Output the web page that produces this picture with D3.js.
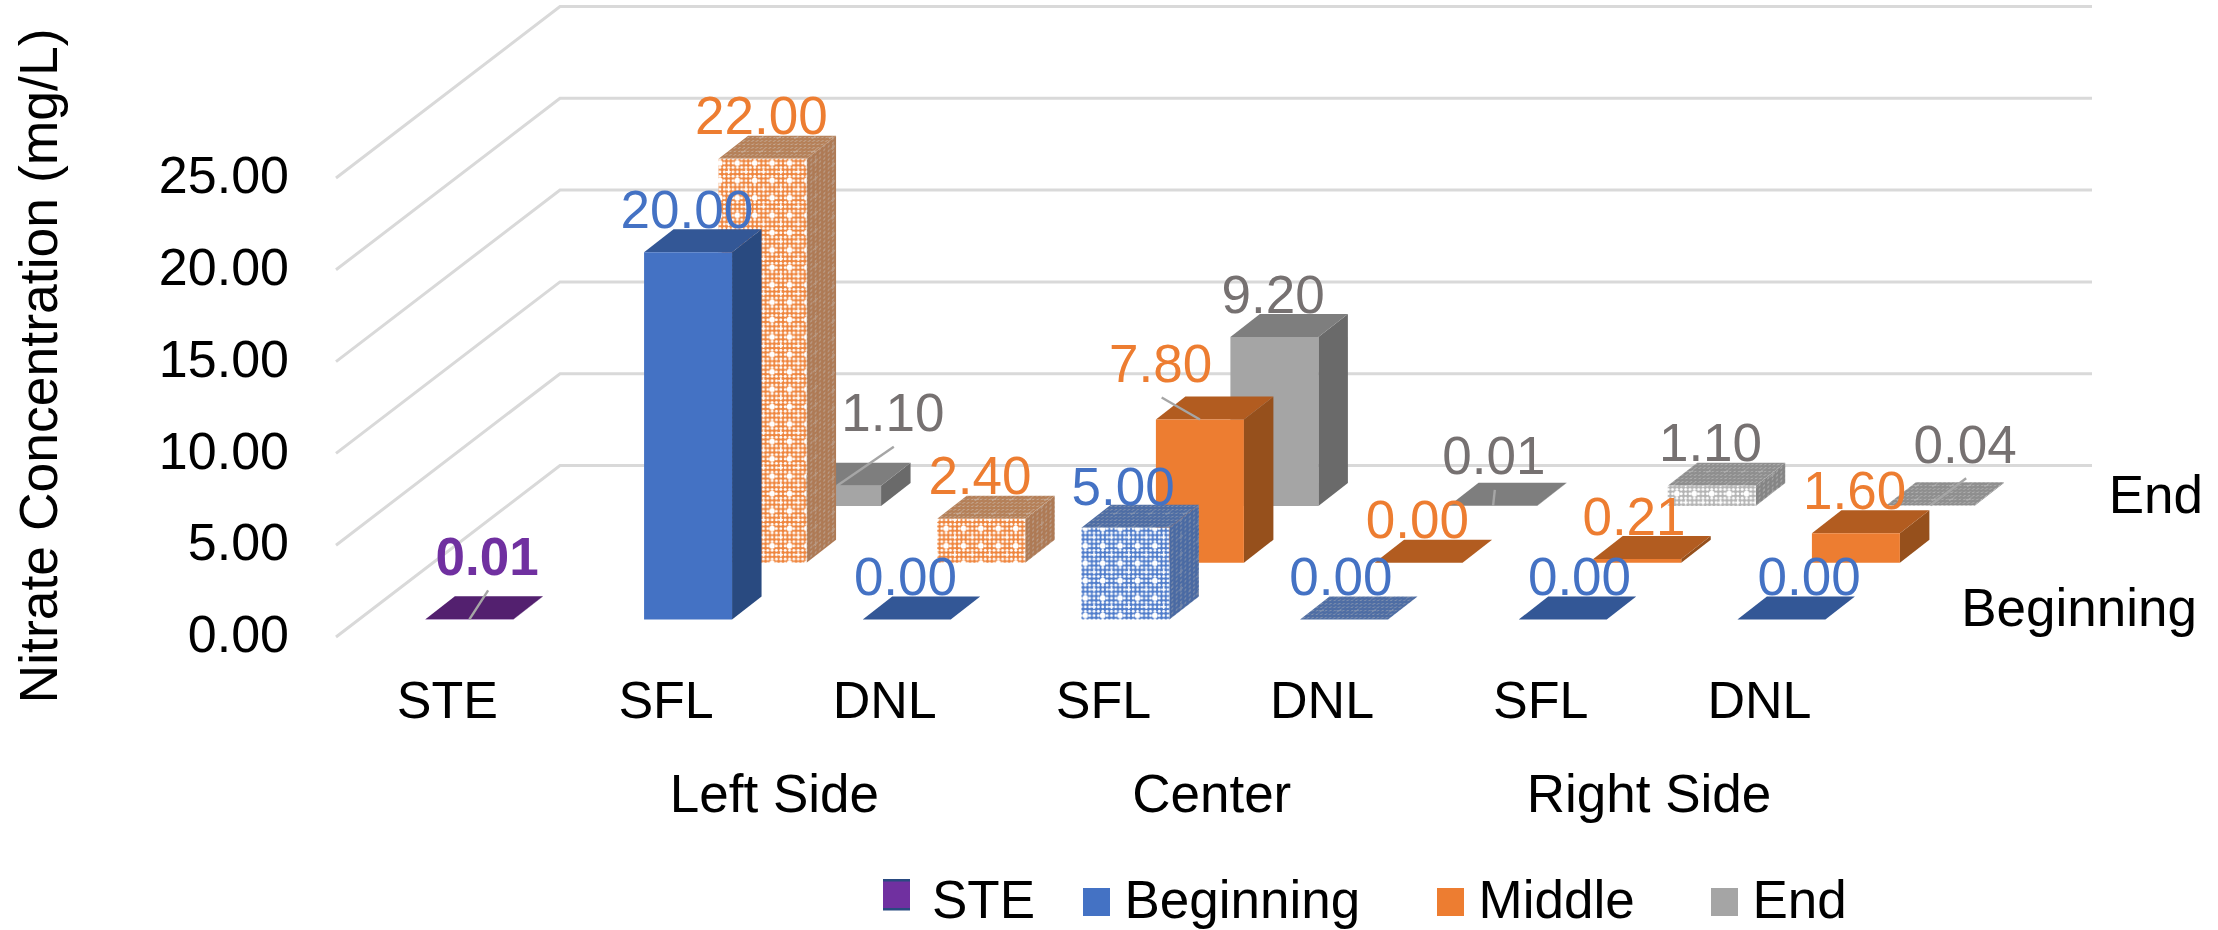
<!DOCTYPE html>
<html>
<head>
<meta charset="utf-8">
<title>Nitrate Concentration</title>
<script src="https://cdn.jsdelivr.net/npm/d3@7/dist/d3.min.js"></script>
<style>
  html, body { margin: 0; padding: 0; background: #fff; }
  svg { display: block; }
  text { font-family: "Liberation Sans", Arial, sans-serif; }
</style>
</head>
<body>
<svg id="chart" width="2218" height="930"></svg>
<script>
// Sampling locations along the x axis, as group / sublabel pairs
const categories = ["STE", "Left SFL", "Left DNL", "Center SFL", "Center DNL", "Right SFL", "Right DNL"];
const categoryLabels = ["STE", "SFL", "DNL", "SFL", "DNL", "SFL", "DNL"];
const groups = ["Left Side", "Center", "Right Side"];
const groupMembers = [["Left SFL", "Left DNL"], ["Center SFL", "Center DNL"], ["Right SFL", "Right DNL"]];

// Depth rows, front to back
const rows = ["Beginning", "Middle", "End"];
const depthLabels = ["Beginning", "End"];

// Nitrate concentration in mg/L, one entry per category; null means no bar
const steValues = [0.01, null, null, null, null, null, null];
const beginningValues = [null, 20.0, 0.0, 5.0, 0.0, 0.0, 0.0];
const middleValues = [null, 22.0, 2.4, 7.8, 0.0, 0.21, 1.6];
const endValues = [null, 1.1, null, 9.2, 0.01, 1.1, 0.04];

const yTicks = [0, 5, 10, 15, 20, 25];
const legendEntries = ["STE", "Beginning", "Middle", "End"];

// Bars that carry the dotted fill
const texturedBars = ["Middle|Left SFL", "Middle|Left DNL", "Beginning|Center SFL", "Beginning|Center DNL", "End|Right SFL", "End|Right DNL"];

// Face colours per series
const palette = {
  STE:       { front: "#7030A0", top: "#53206F", side: "#4A1C63", label: "#7030A0" },
  Beginning: { front: "#4472C4", top: "#335796", side: "#294A80", label: "#4472C4" },
  Middle:    { front: "#ED7D31", top: "#B25C20", side: "#96501C", label: "#ED7D31" },
  End:       { front: "#A5A5A5", top: "#7E7E7E", side: "#6A6A6A", label: "#767171" }
};

// Label placement relative to the back of the bar top; a third entry adds a connector line
const defaultShift = [-16, -20];
const labelShift = {
  "STE|STE": [3, -40, true],
  "Beginning|Center SFL": [-17, -18],
  "Beginning|Center DNL": [-18, -20],
  "Beginning|Right SFL": [2, -20],
  "Beginning|Right DNL": [13, -20],
  "Middle|Center SFL": [-54, -33, true],
  "Middle|Right SFL": [-18, -19],
  "End|Left SFL": [41, -50, true],
  "End|Center DNL": [-14, -27, true],
  "End|Right DNL": [20, -38, true]
};

const FONT = 52, FONT_LARGE = 53;
const svg = d3.select("#chart");
const defs = svg.append("defs");

// Scales: x across the categories, depth shifts per row, height per mg/L
const x = d3.scaleBand().domain(categories).range([425.4, 1825.4]).paddingInner(0.5976).paddingOuter(0);
const depthX = d3.scalePoint().domain(rows).range([0, 149]);
const depthY = d3.scalePoint().domain(rows).range([0, -113.5]);
const yFront = d3.scaleLinear().domain([0, 25]).range([637, 178]);
const height = d3.scaleLinear().domain([0, 25]).range([0, 459]);
const baseY = 619.5, barDepthX = 29.5, barDepthY = 23;
const wallX = 560, wallRight = 2092, floorFrontX = 336, wallDrop = 171.5;

// Dotted fills: a fine mesh with larger openings on a coarser grid, skewed on the receding faces
function addPattern(id, base, dot, coarse, dotRadius, transform) {
  const step = 4.35, tile = step * 4;
  const p = defs.append("pattern").attr("id", id).attr("patternUnits", "userSpaceOnUse")
    .attr("width", tile).attr("height", tile);
  if (transform) p.attr("patternTransform", transform);
  p.append("rect").attr("width", tile).attr("height", tile).attr("fill", base);
  for (const i of d3.range(4)) for (const j of d3.range(4)) {
    p.append("circle").attr("cx", (i + 0.5) * step).attr("cy", (j + 0.5) * step)
      .attr("r", dotRadius).attr("fill", dot);
  }
  p.append("circle").attr("cx", 1.5 * step).attr("cy", 1.5 * step).attr("r", coarse).attr("fill", dot);
  p.append("rect").attr("x", 3.5 * step - 2.6).attr("y", 3.5 * step - 0.7).attr("width", 5.2).attr("height", 1.4).attr("fill", dot);
  p.append("rect").attr("x", 3.5 * step - 0.7).attr("y", 3.5 * step - 2.6).attr("width", 1.4).attr("height", 5.2).attr("fill", dot);
}
const sideSkew = "skewY(-38)", topSkew = "skewX(-52) scale(1 .8)";
addPattern("front-Beginning", "#4F7CCB", "#FFFFFF", 2.8, 1.45);
addPattern("side-Beginning", "#4A6AA3", "#7688A9", 1.2, 1.1, sideSkew);
addPattern("top-Beginning", "#4E6DA4", "#7F90AE", 1.1, 1.1, topSkew);
addPattern("front-Middle", "#EF853D", "#FFFFFF", 2.8, 1.45);
addPattern("side-Middle", "#AE7A55", "#B99A84", 1.2, 1.1, sideSkew);
addPattern("top-Middle", "#B58058", "#C5A892", 1.1, 1.1, topSkew);
addPattern("front-End", "#B4B4B4", "#FFFFFF", 2.8, 1.45);
addPattern("side-End", "#858585", "#A4A4A4", 1.2, 1.1, sideSkew);
addPattern("top-End", "#8E8E8E", "#AEAEAE", 1.1, 1.1, topSkew);

// Back wall lines and the matching floor lines running to the front
const grid = svg.append("g").attr("stroke", "#D9D9D9").attr("stroke-width", 3).attr("fill", "none");
grid.selectAll("path").data(yTicks).join("path")
  .attr("d", d => {
    const f = yFront(d);
    return d3.line()([[floorFrontX, f], [wallX, f - wallDrop], [wallRight, f - wallDrop]]);
  });

// Value axis
const yAxis = svg.append("g").attr("transform", "translate(289,-2)")
  .call(d3.axisLeft(yFront).tickValues(yTicks).tickFormat(d3.format(".2f")).tickSize(0).tickPadding(0));
yAxis.select(".domain").remove();
yAxis.selectAll("text").attr("font-size", FONT).attr("fill", "#000");

svg.append("text").attr("transform", "translate(57,366) rotate(-90)")
  .attr("text-anchor", "middle").attr("font-size", 53.5).attr("fill", "#000")
  .text("Nitrate Concentration (mg/L)");

// One record per drawn bar, ordered back to front and left to right
function series(name, values, row) {
  return categories.map((c, i) => ({ name, row, category: c, value: values[i] })).filter(d => d.value !== null);
}
const bars = [
  ...series("End", endValues, "End"),
  ...series("Middle", middleValues, "Middle"),
  ...series("Beginning", beginningValues, "Beginning"),
  ...series("STE", steValues, "Beginning")
];
bars.forEach(d => {
  d.x0 = x(d.category) + depthX(d.row);
  d.x1 = d.x0 + x.bandwidth();
  d.y0 = baseY + depthY(d.row);
  d.yTop = d.y0 - height(d.value);
  d.key = d.name + "|" + d.category;
  d.textured = texturedBars.includes(d.key);
});

const poly = pts => d3.line()(pts) + "Z";
const face = (d, part) => d.textured ? `url(#${part}-${d.name})` : palette[d.name][part];

const barG = svg.append("g").selectAll("g").data(bars).join("g");
barG.append("path").attr("fill", d => face(d, "side"))
  .attr("d", d => poly([[d.x1, d.y0], [d.x1 + barDepthX, d.y0 - barDepthY], [d.x1 + barDepthX, d.yTop - barDepthY], [d.x1, d.yTop]]));
barG.append("path").attr("fill", d => face(d, "top"))
  .attr("d", d => poly([[d.x0, d.yTop], [d.x1, d.yTop], [d.x1 + barDepthX, d.yTop - barDepthY], [d.x0 + barDepthX, d.yTop - barDepthY]]));
barG.append("path").attr("fill", d => face(d, "front"))
  .attr("d", d => poly([[d.x0, d.y0], [d.x1, d.y0], [d.x1, d.yTop], [d.x0, d.yTop]]));

// Connector lines for labels pulled away from their bars
const placed = bars.map(d => {
  const s = labelShift[d.key] || defaultShift;
  const cx = (d.x0 + d.x1) / 2;
  return {
    ...d,
    cx,
    lx: cx + barDepthX / 2 + s[0],
    ly: d.yTop - barDepthY + s[1],
    leader: !!s[2]
  };
});
svg.append("g").attr("stroke", "#A6A6A6").attr("stroke-width", 2.4)
  .selectAll("line").data(placed.filter(d => d.leader)).join("line")
  .attr("x1", d => d.cx).attr("y1", d => d.yTop)
  .attr("x2", d => d.lx + 1).attr("y2", d => d.ly + 34);

// Value labels
svg.append("g").selectAll("text").data(placed).join("text")
  .attr("x", d => d.lx).attr("y", d => d.ly + 18.5)
  .attr("text-anchor", "middle").attr("font-size", FONT_LARGE)
  .attr("font-weight", d => d.name === "STE" ? 700 : 400)
  .attr("fill", d => palette[d.name].label)
  .text(d => d3.format(".2f")(d.value));

// Category axis, shifted onto the sublabel baseline
const xAxis = svg.append("g").attr("transform", "translate(-22,681)")
  .call(d3.axisBottom(x).tickSize(0).tickPadding(0).tickFormat((c, i) => categoryLabels[i]));
xAxis.select(".domain").remove();
xAxis.selectAll("text").attr("font-size", FONT).attr("fill", "#000");

// Group captions centred under their category pairs
svg.append("g").selectAll("text").data(groups).join("text")
  .attr("x", (g, i) => {
    const [a, b] = groupMembers[i];
    return (x(a) + x(b) + x.bandwidth()) / 2 - 23;
  })
  .attr("y", 812).attr("text-anchor", "middle").attr("font-size", FONT_LARGE).attr("fill", "#000")
  .text(g => g);

// Depth axis captions on the right
const depthCaption = { Beginning: [2197, 626], End: [2203, 513] };
svg.append("g").selectAll("text").data(depthLabels).join("text")
  .attr("x", d => depthCaption[d][0]).attr("y", d => depthCaption[d][1]).attr("text-anchor", "end")
  .attr("font-size", FONT_LARGE).attr("fill", "#000").text(d => d);

// Legend
const legendSwatchX = { STE: 883, Beginning: 1083, Middle: 1437, End: 1711 };
const legendG = svg.append("g").selectAll("g").data(legendEntries).join("g")
  .attr("transform", d => `translate(${legendSwatchX[d]},0)`);
legendG.append("rect").attr("x", 0).attr("width", 27)
  .attr("y", d => d === "STE" ? 879 : 888).attr("height", d => d === "STE" ? 31 : 28)
  .attr("fill", d => palette[d].front);
legendG.filter(d => d === "STE").selectAll("rect.edge").data([879, 908]).join("rect")
  .attr("class", "edge").attr("x", 0).attr("width", 27).attr("y", y => y).attr("height", 2.5)
  .attr("fill", palette.Beginning.side);
legendG.append("text").attr("x", d => d === "STE" ? 49 : 41.5).attr("y", 918)
  .attr("font-size", FONT_LARGE).attr("fill", "#000").text(d => d);
</script>
</body>
</html>
